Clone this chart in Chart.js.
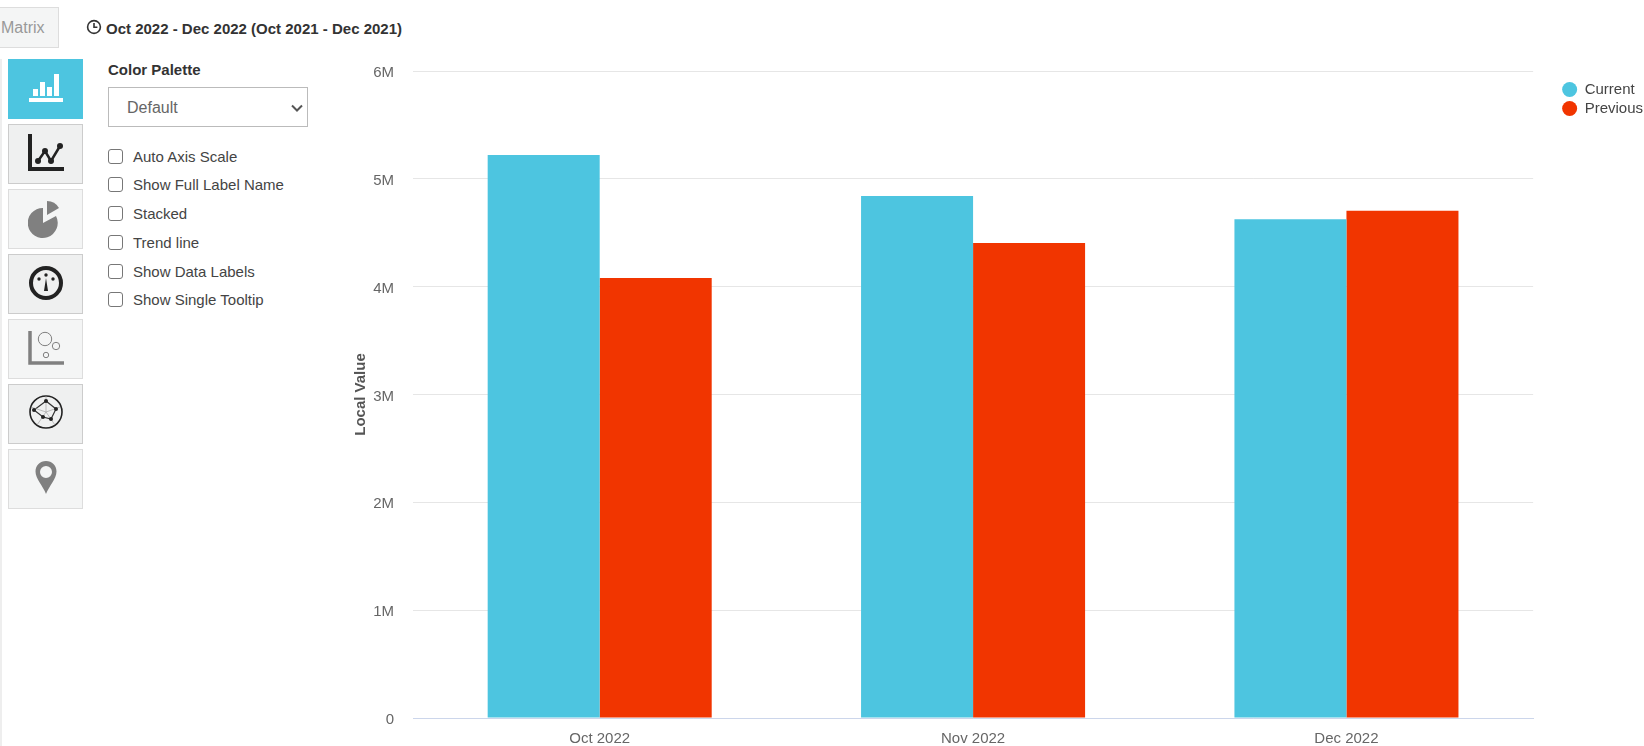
<!DOCTYPE html>
<html lang="en">
<head>
    <meta charset="utf-8"/>
    <script src="https://cdn.jsdelivr.net/npm/chart.js@4/dist/chart.umd.js"></script>
    <style>
        html, body { margin: 0; height: 100%; overflow: hidden; background: #fff; font-family: "Liberation Sans", sans-serif; color: #444; }
        .abs { position: absolute; }
        #matrix { left: -2px; top: 7px; height: 39px; background: #f4f5f5; border: 1px solid #ddd; color: #999; font-size: 16px; line-height: 39px; padding-left: 2px; box-sizing: content-box; width: 57px; }
        #period { left: 106px; top: 20px; font-size: 15px; font-weight: bold; color: #333; white-space: nowrap; }
        #clock { left: 86px; top: 19px; }
        #strip { left: 0; top: 59px; width: 2px; height: 687px; background: #eee; }
        .tool { left: 8px; width: 75px; height: 60px; box-sizing: border-box; background: #f4f5f5; border: 1px solid #ddd; }
        .tool.dark { background: #eff0f0; border-color: #ccc; }
        .tool.active { background: #4dc5e0; border-color: #4dc5e0; }
        .tool svg { position: absolute; left: 19px; top: 9px; }
        #palette-title { left: 108px; top: 61px; font-size: 15px; font-weight: bold; color: #333; }
        #palette { left: 108px; top: 87px; width: 200px; height: 40px; background: #fff url("data:image/svg+xml,%3Csvg xmlns='http://www.w3.org/2000/svg' width='12' height='8'%3E%3Cpath d='M1 1.500l5 5 5-5' fill='none' stroke='%23555' stroke-width='2'/%3E%3C/svg%3E") no-repeat 182px 16px; border: 1px solid #bbb; color: #666; font-size: 16px; font-family: inherit; padding-left: 18px; appearance: none; border-radius: 0; }
        .opt { left: 108px; font-size: 15px; color: #444; white-space: nowrap; line-height: 20px; }
        .opt i { position: absolute; left: 0; top: 2px; width: 13px; height: 13px; border: 1px solid #777; border-radius: 3px; }
        .opt span { margin-left: 25px; }
        #chart-box { left: 340px; top: 0; width: 1304px; height: 746px; }
    </style>
</head>
<body>
    <div class="abs" id="matrix">Matrix</div>
    <svg class="abs" id="clock" width="16" height="16" viewBox="0 0 16 16"><circle cx="8" cy="8" r="6.4" fill="none" stroke="#333" stroke-width="1.6"/><path d="M8 4v4.3h3.4" fill="none" stroke="#333" stroke-width="1.6"/></svg>
    <div class="abs" id="period">Oct 2022 - Dec 2022 (Oct 2021 - Dec 2021)</div>
    <div class="abs" id="strip"></div>

    <div class="abs tool active" style="top:59px"><svg style="top:6px" width="36" height="42" viewBox="0 0 36 42"><path d="M1 32h34v4H1zM5 23h5v7H5zM12 16h5v14h-5zM19 21h5v9h-5zM26 8h5v22h-5z" fill="#fff"/></svg></div>
    <div class="abs tool dark" style="top:124px"><svg width="36" height="42" viewBox="0 0 36 42"><path d="M2 0v35h34" fill="none" stroke="#222" stroke-width="4"/><path d="M10 27l7-10 6 10 9-15" fill="none" stroke="#222" stroke-width="2.500"/><g fill="#222"><circle cx="10" cy="27" r="3"/><circle cx="17" cy="17" r="3"/><circle cx="23" cy="27" r="3"/><circle cx="32" cy="12" r="3"/></g></svg></div>
    <div class="abs tool" style="top:189px"><svg width="36" height="42" viewBox="0 0 36 42"><path d="M15 9v15l13-7a15 15 0 1 1-13-8z" fill="#808080"/><path d="M19 2v14l12-7a14 14 0 0 0-12-7z" fill="#808080"/></svg></div>
    <div class="abs tool dark" style="top:254px"><svg width="36" height="42" viewBox="0 0 36 42"><circle cx="18" cy="19" r="15" fill="none" stroke="#222" stroke-width="4"/><path d="M18 14l2 13h-4z" fill="#222"/><g fill="#222"><circle cx="11" cy="15" r="1.7"/><circle cx="18" cy="11" r="1.7"/><circle cx="25" cy="15" r="1.7"/></g></svg></div>
    <div class="abs tool" style="top:319px"><svg width="36" height="42" viewBox="0 0 36 42"><path d="M2 2v32h34" fill="none" stroke="#808080" stroke-width="3.5"/><g fill="none" stroke="#808080"><circle cx="17" cy="10" r="6.7"/><circle cx="28" cy="17" r="3.7"/><circle cx="18" cy="26" r="2.7"/></g></svg></div>
    <div class="abs tool dark" style="top:384px"><svg width="36" height="42" viewBox="0 0 36 42"><circle cx="18" cy="18" r="16" fill="none" stroke="#222" stroke-width="1.6"/><path d="M18 7l10 8-5 10-8-2-9-7z" fill="none" stroke="#333" stroke-width="1.2"/><path d="M18 18V2M18 18l14-5M18 18l9 13M18 18l-9 13M18 18L3 13" stroke="#999" stroke-width=".6"/><g fill="#222"><circle cx="18" cy="7" r="2"/><circle cx="28" cy="15" r="2"/><circle cx="23" cy="25" r="2"/><circle cx="15" cy="23" r="2"/><circle cx="6" cy="16" r="2"/></g></svg></div>
    <div class="abs tool" style="top:449px"><svg width="36" height="42" viewBox="0 0 36 42"><path fill-rule="evenodd" d="M18 2c6 0 10.500 4.500 10.500 10.500C28.500 20 21 27 18 35 15 27 7.500 20 7.500 12.500 7.500 6.500 12 2 18 2zm0 5a6 6 0 1 0 0 12 6 6 0 0 0 0-12z" fill="#808080"/></svg></div>

    <div class="abs" id="palette-title">Color Palette</div>
    <select class="abs" id="palette"><option>Default</option></select>
    <div class="abs opt" style="top:147px"><i></i><span>Auto Axis Scale</span></div>
    <div class="abs opt" style="top:175px"><i></i><span>Show Full Label Name</span></div>
    <div class="abs opt" style="top:204px"><i></i><span>Stacked</span></div>
    <div class="abs opt" style="top:233px"><i></i><span>Trend line</span></div>
    <div class="abs opt" style="top:262px"><i></i><span>Show Data Labels</span></div>
    <div class="abs opt" style="top:290px"><i></i><span>Show Single Tooltip</span></div>

    <div class="abs" id="chart-box"><canvas id="chart" width="1304" height="746"></canvas></div>

    <script>
        const categories = ["Oct 2022", "Nov 2022", "Dec 2022"];
        const currentValues = [5220000, 4840000, 4625000];
        const previousValues = [4080000, 4405000, 4705000];
        const tickLabels = {0: "0", 1000000: "1M", 2000000: "2M", 3000000: "3M", 4000000: "4M", 5000000: "5M", 6000000: "6M"};

        const fontFamily = '"Liberation Sans", sans-serif';

        // legend sits a bit right of and below where the layout puts it,
        // y tick labels sit slightly under their grid lines
        const layoutNudge = {
            id: "layoutNudge",
            afterLayout: function(chart) {
                const legend = chart.legend;
                const w = legend.width;
                legend.left = 1304 - w + 9;
                legend.right = legend.left + w;
                legend.top += 7;
                legend.bottom += 7;
                chart.scales.y.getLabelItems().forEach(function(item) {
                    item.options.translation[1] += 2;
                });
            }
        };

        new Chart(document.getElementById("chart"), {
            type: "bar",
            plugins: [layoutNudge],
            data: {
                labels: categories,
                datasets: [
                    {label: "Current", data: currentValues, backgroundColor: "#4dc5e0"},
                    {label: "Previous", data: previousValues, backgroundColor: "#f13500"}
                ]
            },
            options: {
                responsive: false,
                animation: false,
                layout: {padding: {top: 71, bottom: 0, left: 12, right: 16}},
                categoryPercentage: 0.6,
                barPercentage: 1,
                plugins: {
                    tooltip: {enabled: false},
                    legend: {
                        position: "right",
                        align: "start",
                        labels: {
                            usePointStyle: true,
                            pointStyle: "circle",
                            pointStyleWidth: 15,
                            boxHeight: 10.6,
                            padding: 4,
                            color: "#444",
                            font: {family: fontFamily, size: 15}
                        }
                    }
                },
                scales: {
                    x: {
                        afterFit: function(axis) { axis.height = 28; },
                        grid: {display: false, drawTicks: false},
                        border: {color: "#ccd6eb", width: 1},
                        ticks: {color: "#666", padding: 12, maxRotation: 0, font: {family: fontFamily, size: 15}}
                    },
                    y: {
                        min: 0,
                        max: 6000000,
                        afterFit: function(axis) { axis.width = 61; },
                        grid: {color: "#e6e6e6", drawTicks: false},
                        border: {display: false},
                        title: {display: true, text: "Local Value", color: "#555", font: {family: fontFamily, size: 15, weight: "bold"}, padding: 0},
                        ticks: {
                            stepSize: 1000000,
                            color: "#666",
                            padding: 19,
                            font: {family: fontFamily, size: 15},
                            callback: function(value) { return tickLabels[value]; }
                        }
                    }
                }
            }
        });
    </script>
</body>
</html>
